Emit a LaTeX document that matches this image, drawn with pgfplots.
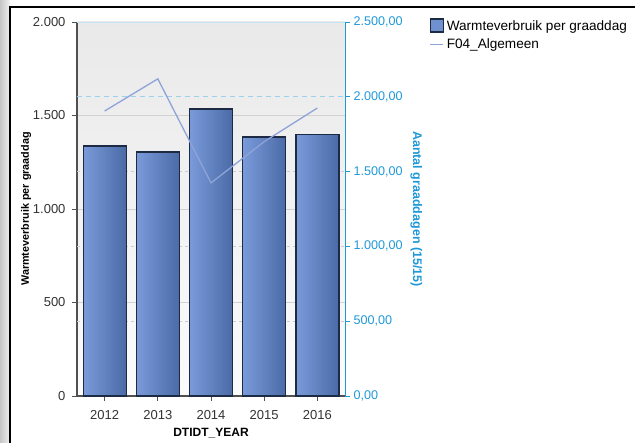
\documentclass[border=0pt]{standalone}
\usepackage{pgfplots}
\pgfplotsset{compat=1.18}
\usepackage{fontspec}
\setmainfont{Liberation Sans}
\definecolor{barL}{HTML}{7A9ADA}
\definecolor{barR}{HTML}{4A6BA6}
\definecolor{barEdge}{HTML}{1C2A44}
\definecolor{lineC}{HTML}{8EA4D8}
\definecolor{rblue}{HTML}{1E98D8}
\definecolor{axgray}{HTML}{505050}
\pgfplotsset{
  mybar/.style={ybar, bar width=43pt, bar shift=0pt, draw=barEdge, line width=1.3pt,
    left color=barL, right color=barR},
  boxlegend/.style={legend image code/.code={\draw[##1] (0pt,-6pt) rectangle (13pt,7pt);}},
  linelegend/.style={legend image code/.code={\draw[##1] (0pt,0pt) -- (13pt,0pt);}},
}
\begin{document}
\begin{tikzpicture}
\path[use as bounding box] (0,0) rectangle (635pt,443pt);
\shade[left color=gray!45, right color=gray!10] (0,0) rectangle (10pt,443pt);
\draw[black, line width=1.2pt] (10pt,0) -- (10pt,436pt) -- (635pt,436pt);
\begin{axis}[
  at={(77pt,47pt)}, anchor=south west,
  scale only axis, width=268pt, height=374pt,
  xmin=-0.52, xmax=4.52, ymin=0, ymax=2000,
  axis x line*=bottom, axis y line*=left,
  axis line style={axgray, line width=1.6pt},
  tick style={axgray, line width=0.9pt},
  tick align=outside, major tick length=5pt,
  xtick={0,1,2,3,4}, xticklabels={2012,2013,2014,2015,2016},
  ytick={0,500,1000,1500,2000}, yticklabels={0,500,1.000,1.500,2.000},
  ticklabel style={font=\fontsize{13}{14}\selectfont, text=black!80},
  xticklabel style={yshift=-6pt},
  yticklabel style={xshift=-3pt},
  /pgf/number format/assume math mode=true,
  ymajorgrids, grid style={gray!35, line width=0.6pt},
  axis background/.style={top color=gray!17, bottom color=gray!3},
  xlabel={\textbf{DTIDT\_YEAR}},
  xlabel style={font=\fontsize{12}{13}\selectfont, at={(axis description cs:0.5,0)}, anchor=center, yshift=-37pt},
  ylabel={\textbf{Warmteverbruik per graaddag}}, ylabel style={font=\fontsize{10.8}{12}\selectfont, yshift=-5pt},
  legend style={at={(1.311,1.013)}, anchor=north west, draw=none, fill=none,
    font=\fontsize{13.6}{15}\selectfont, row sep=3pt, inner sep=1pt,
    nodes={inner xsep=3pt},
    legend cell align=left},
  clip=false,
]
\addplot[gray!40, dashed, line width=0.6pt, forget plot] coordinates {(-0.52,400) (4.52,400)};
\addplot[gray!40, dashed, line width=0.6pt, forget plot] coordinates {(-0.52,800) (4.52,800)};
\addplot[gray!40, dashed, line width=0.6pt, forget plot] coordinates {(-0.52,1200) (4.52,1200)};
\addplot[rblue!45, line width=0.9pt, dash pattern=on 5pt off 4pt, forget plot] coordinates {(-0.52,1600) (4.52,1600)};
\addplot[rblue!25, line width=0.9pt, forget plot] coordinates {(-0.52,2000) (4.52,2000)};
\addplot[mybar, forget plot] coordinates {(0,1337)};
\addplot[mybar, forget plot] coordinates {(1,1305)};
\addplot[mybar, forget plot] coordinates {(2,1535)};
\addplot[mybar, forget plot] coordinates {(3,1385)};
\addplot[mybar, forget plot] coordinates {(4,1397)};
\addlegendimage{boxlegend, draw=barEdge, line width=1.2pt, fill=barL!80!barR}
\addlegendentry{Warmteverbruik per graaddag}
\addlegendimage{linelegend, lineC, line width=1.2pt}
\addlegendentry{F04\_Algemeen}
\end{axis}
\begin{axis}[
  at={(77pt,47pt)}, anchor=south west,
  scale only axis, width=268pt, height=374pt,
  xmin=-0.52, xmax=4.52, ymin=0, ymax=2500,
  axis x line=none, axis y line*=right,
  axis line style={rblue, line width=1pt},
  tick style={rblue, line width=0.9pt},
  tick align=outside, major tick length=5pt,
  ytick={0,500,1000,1500,2000,2500},
  yticklabels={{0,00},{500,00},{1.000,00},{1.500,00},{2.000,00},{2.500,00}},
  ticklabel style={font=\fontsize{12.6}{13}\selectfont, text=rblue},
  ylabel={\textbf{Aantal graaddagen (15/15)}},
  ylabel style={font=\fontsize{12.5}{13}\selectfont, text=rblue, rotate=180, yshift=1pt},
  clip=false,
]
\addplot[lineC, line width=1.3pt] coordinates {(0,1905) (1,2120) (2,1424) (3,1700) (4,1925)};
\end{axis}
\end{tikzpicture}
\end{document}
